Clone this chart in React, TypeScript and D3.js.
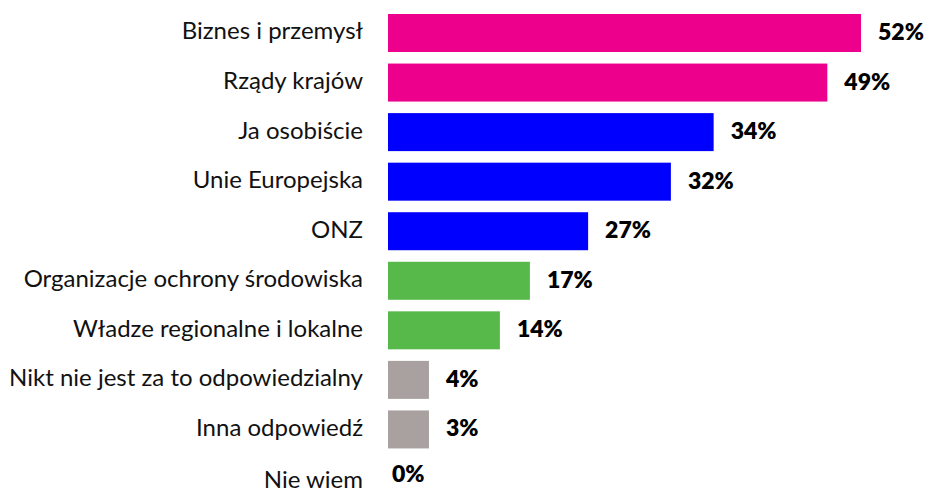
import React from "react";
import * as d3 from "d3";

const categories = [
  "Biznes i przemysł",
  "Rządy krajów",
  "Ja osobiście",
  "Unie Europejska",
  "ONZ",
  "Organizacje ochrony środowiska",
  "Władze regionalne i lokalne",
  "Nikt nie jest za to odpowiedzialny",
  "Inna odpowiedź",
  "Nie wiem",
];
// bar lengths as drawn in the picture (percent units)
const barValues = [52, 48.3, 35.8, 31.1, 22, 15.6, 12.3, 4.5, 4.5, 0];
// value labels as printed
const valueLabels = ["52%", "49%", "34%", "32%", "27%", "17%", "14%", "4%", "3%", "0%"];
const groups = ["a", "a", "b", "b", "b", "c", "c", "d", "d", "d"];

const W = 934;
const H = 489;
const colors: Record<string, string> = {
  a: "#EC008C",
  b: "#0000FE",
  c: "#58B94B",
  d: "#A9A19F",
};

export default function App() {
  const x = d3.scaleLinear().domain([0, 52]).range([388, 861]);
  const y = d3.scalePoint<string>().domain(categories).range([33, 479]);
  const bh = 38;
  return (
    <svg
      width={W}
      height={H}
      style={{ position: "absolute", left: 0, top: 0, background: "#fff" }}
    >
      {categories.map((c, i) => {
        const cy = y(c)!;
        const x1 = x(barValues[i]);
        const last = i === categories.length - 1;
        return (
          <g key={c}>
            {barValues[i] > 0 && (
              <rect
                x={x(0)}
                y={cy - bh / 2}
                width={x1 - x(0)}
                height={bh}
                fill={colors[groups[i]]}
              />
            )}
            <text
              x={363}
              y={last ? cy + 1 : cy - 2}
              dy="0.35em"
              textAnchor="end"
              fontFamily="Lato"
              fontSize={24}
              fill="#111"
            >
              {c}
            </text>
            <text
              x={x1 + (barValues[i] > 0 ? 17 : 4)}
              y={last ? cy - 5 : cy - 1}
              dy="0.35em"
              fontFamily="Lato"
              fontWeight={800}
              fontSize={23}
              fill="#000"
            >
              {valueLabels[i]}
            </text>
          </g>
        );
      })}
    </svg>
  );
}
